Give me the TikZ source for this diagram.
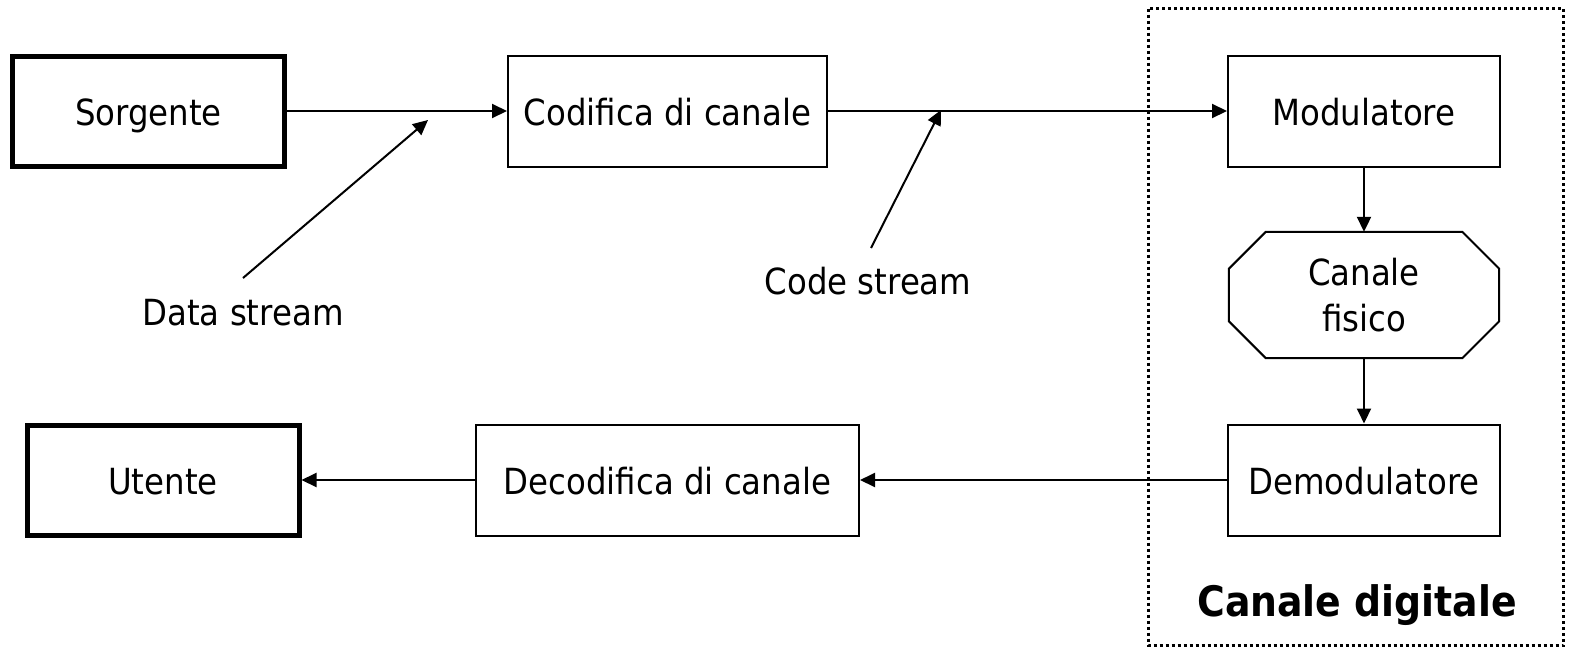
\documentclass[tikz,border=0pt]{standalone}
\usepackage{fontspec}
\setmainfont{DejaVu Sans Condensed}
\usetikzlibrary{arrows.meta}
\begin{document}
\begin{tikzpicture}[x=1pt,y=-1pt,
  every node/.style={font=\fontsize{36}{42}\selectfont},
  block/.style={draw, line width=2pt, minimum height=111pt, inner sep=0pt,
                text height=30pt, text depth=2pt},
  endblock/.style={block, line width=5pt, minimum height=110pt},
  flow/.style={line width=2pt, -{Triangle[length=15pt,width=14pt]}},
  container/.style={line width=3pt, dash pattern=on 3pt off 3pt}]
\useasboundingbox (0,0) rectangle (1570,648);

% upper chain
\node[endblock, minimum width=272pt] (src) at (148.5,111) {Sorgente};
\node[block, minimum width=319pt] (enc) at (667.5,111) {Codifica di canale};
\node[block, minimum width=272pt] (mod) at (1364,111) {Modulatore};

% physical channel (octagon drawn around an invisible node)
\node[minimum width=270pt, minimum height=126pt, inner sep=0pt, align=center,
      font=\fontsize{36}{46}\selectfont] (phy) at (1364,295) {Canale\\fisico};
\draw[line width=2pt]
  ([xshift=37pt]phy.north west) -- ([xshift=-37pt]phy.north east)
  -- ([yshift=-37pt]phy.north east) -- ([yshift=37pt]phy.south east)
  -- ([xshift=-37pt]phy.south east) -- ([xshift=37pt]phy.south west)
  -- ([yshift=37pt]phy.south west) -- ([yshift=-37pt]phy.north west) -- cycle;

% lower chain
\node[block, minimum width=272pt] (dem) at (1364,480) {Demodulatore};
\node[block, minimum width=383pt] (dec) at (667.5,480) {Decodifica di canale};
\node[endblock, minimum width=272pt] (usr) at (163,480) {Utente};

% digital channel boundary
\draw[container] (1148.5,8.5) rectangle (1563.5,645.5);
\node[font=\fontsize{42}{50}\selectfont\bfseries] (dig) at (1357,605) {Canale digitale};

% data flow
\draw[flow] (src.east) -- (enc.west);
\draw[flow] (enc.east) -- (mod.west);
\draw[flow] (mod.south) -- (phy.north);
\draw[flow] (phy.south) -- (dem.north);
\draw[flow] (dem.west) -- (dec.east);
\draw[flow] (dec.west) -- (usr.east);

% stream labels
\node (dsl) at (243,313) {Data stream};
\coordinate (dsTail) at (243,278);
\coordinate (dsTip) at (428,120);
\draw[flow] (dsTail) -- (dsTip);

\node (csl) at (868,281) {Code stream};
\coordinate (csTail) at (871,248);
\coordinate (csTip) at (941,110);
\draw[flow] (csTail) -- (csTip);
\end{tikzpicture}
\end{document}
